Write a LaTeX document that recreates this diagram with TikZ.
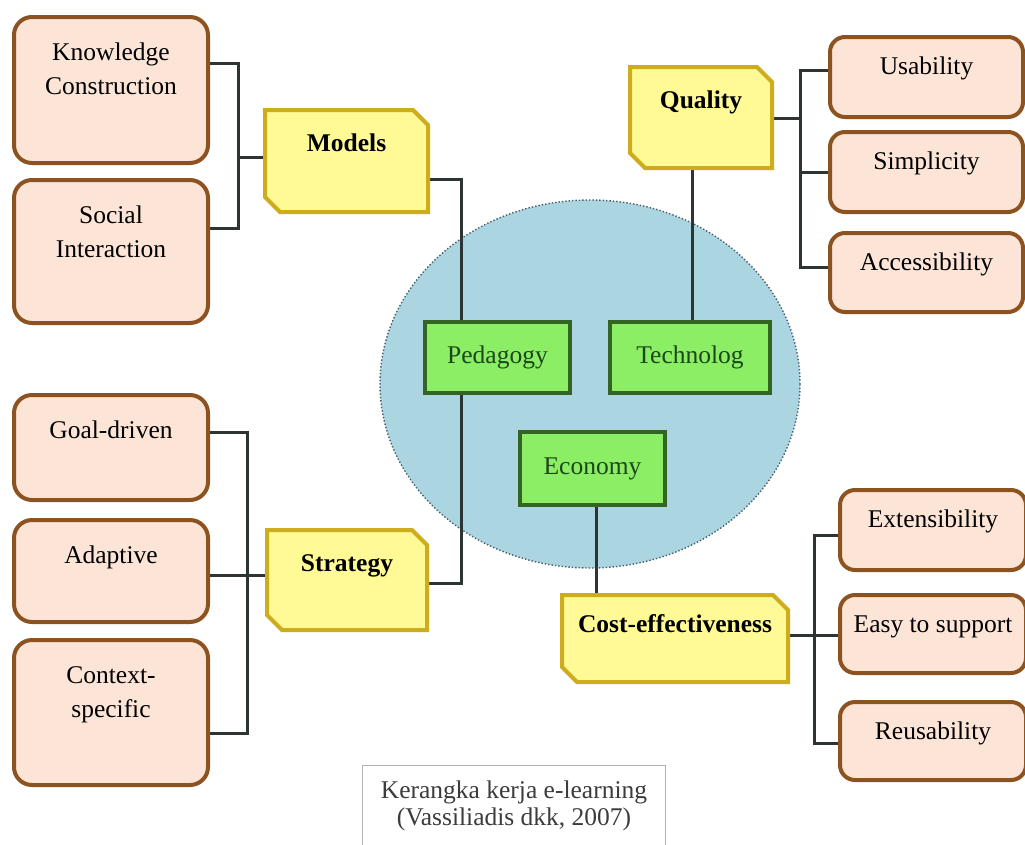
\documentclass[tikz,border=0pt]{standalone}
\usepackage{fontspec}
\setmainfont{Liberation Serif}
\usetikzlibrary{shapes.misc,backgrounds}

\definecolor{peachfill}{RGB}{252,229,214}
\definecolor{peachline}{RGB}{140,82,32}
\definecolor{yellowfill}{RGB}{255,250,150}
\definecolor{yellowline}{RGB}{205,172,30}
\definecolor{greenfill}{RGB}{140,238,100}
\definecolor{greenline}{RGB}{52,100,36}
\definecolor{greentext}{RGB}{28,70,28}
\definecolor{discfill}{RGB}{172,213,226}
\definecolor{discline}{RGB}{70,95,105}
\definecolor{wirecol}{RGB}{45,52,52}
\definecolor{notecol}{RGB}{60,60,60}

\newcommand{\diagfont}{\fontsize{25.5}{34}\selectfont}

\tikzset{
  leaf/.style={rectangle, rounded corners=18pt, draw=peachline, fill=peachfill, line width=4pt,
    anchor=north west, inner xsep=0pt, inner ysep=20pt, outer sep=0pt, align=flush center,
    text width=194pt, text height=23pt, font=\diagfont},
  leafr/.style={leaf, rounded corners=15pt, text height=17pt},
  facet/.style={chamfered rectangle, chamfered rectangle corners={north east,south west},
    chamfered rectangle xsep=12pt, draw=yellowline, fill=yellowfill, line width=4pt,
    anchor=north west, inner xsep=0pt, inner ysep=18pt, outer sep=0pt, align=flush center,
    text height=20pt, font=\diagfont\bfseries},
  core/.style={rectangle, draw=greenline, fill=greenfill, line width=4.5pt, anchor=north west,
    outer sep=0pt, text=greentext, font=\diagfont},
  note/.style={rectangle, draw=black!30, line width=1pt, anchor=north west, inner xsep=0pt,
    inner ysep=15pt, align=flush center, text=notecol, text height=18pt,
    font=\fontsize{25.5}{27}\selectfont},
  wire/.style={draw=wirecol, line width=3pt},
}

\begin{document}
\begin{tikzpicture}[x=1pt, y=-1pt]
    \useasboundingbox (0,0) rectangle (1025,844);

    % Pedagogy side
    \node[leaf, text depth=83pt] (kc) at (14,17) {Knowledge\\Construction};
    \node[leaf, text depth=80pt] (si) at (14,180) {Social\\Interaction};
    \node[leaf, text depth=42pt] (goal) at (14,395) {Goal-driven};
    \node[leaf, text depth=39pt] (adapt) at (14,520) {Adaptive};
    \node[leaf, text depth=82pt] (ctx) at (14,640) {Context-\\specific};
    \node[facet, text width=139pt, text depth=40pt] (models) at (265,110) {Models};
    \node[facet, text width=136pt, text depth=38pt] (strategy) at (267,530) {Strategy};

    % Technology side
    \node[facet, text width=118pt, text depth=39pt] (quality) at (630,67) {Quality};
    \node[leafr, text width=193pt, text depth=23pt] (usab) at (830,37) {Usability};
    \node[leafr, text width=193pt, text depth=23pt] (simp) at (830,132) {Simplicity};
    \node[leafr, text width=193pt, text depth=22pt] (access) at (830,233) {Accessibility};

    % Economy side
    \node[facet, text width=202pt, text height=16pt, text depth=29pt] (cost) at (562,595) {Cost-effectiveness};
    \node[leafr, text width=186pt, text depth=23pt] (ext) at (840,490) {Extensibility};
    \node[leafr, text width=186pt, text depth=21pt] (easy) at (840,595) {Easy to support};
    \node[leafr, text width=186pt, text depth=21pt] (reuse) at (840,702) {Reusability};

    % Core
    \node[core, minimum width=145pt, minimum height=71pt] (ped) at (425,322) {Pedagogy};
    \node[core, minimum width=160pt, minimum height=71pt] (tech) at (610,322) {Technolog};
    \node[core, minimum width=145pt, minimum height=73pt] (econ) at (520,432) {Economy};

    \node[note, text width=303pt, text depth=37pt] (cap) at (362,765) {Kerangka kerja e-learning\\(Vassiliadis dkk, 2007)};

    \begin{scope}[on background layer]
        \fill[white] (0,0) rectangle (1025,844);
        \fill[discfill] (590,384) ellipse [x radius=210pt, y radius=184pt];
        \draw[discline, dotted, line width=1.4pt] (590,384) ellipse [x radius=210pt, y radius=184pt];

        \draw[wire] (kc.east |- 0,63) -- (238,63) -- (238,228) -- (si.east |- 0,228);
        \draw[wire] (238,157) -- (models.west |- 0,157);
        \draw[wire] (models.east |- 0,179) -| (ped.north -| 461,0);
        \draw[wire] (ped.south -| 461,0) |- (strategy.east |- 0,583);
        \draw[wire] (goal.east |- 0,432) -| (247,733) -- (ctx.east |- 0,733);
        \draw[wire] (adapt.east |- 0,575) -- (strategy.west |- 0,575);

        \draw[wire] (quality.south -| 692,0) -- (tech.north -| 692,0);
        \draw[wire] (quality.east |- 0,118) -- (800,118);
        \draw[wire] (usab.west |- 0,70) -| (800,267) -- (access.west |- 0,267);
        \draw[wire] (800,172) -- (simp.west |- 0,172);

        \draw[wire] (econ.south -| 596,0) -- (cost.north -| 596,0);
        \draw[wire] (cost.east |- 0,635) -- (easy.west |- 0,635);
        \draw[wire] (ext.west |- 0,535) -| (814,743) -- (reuse.west |- 0,743);
    \end{scope}
\end{tikzpicture}
\end{document}
